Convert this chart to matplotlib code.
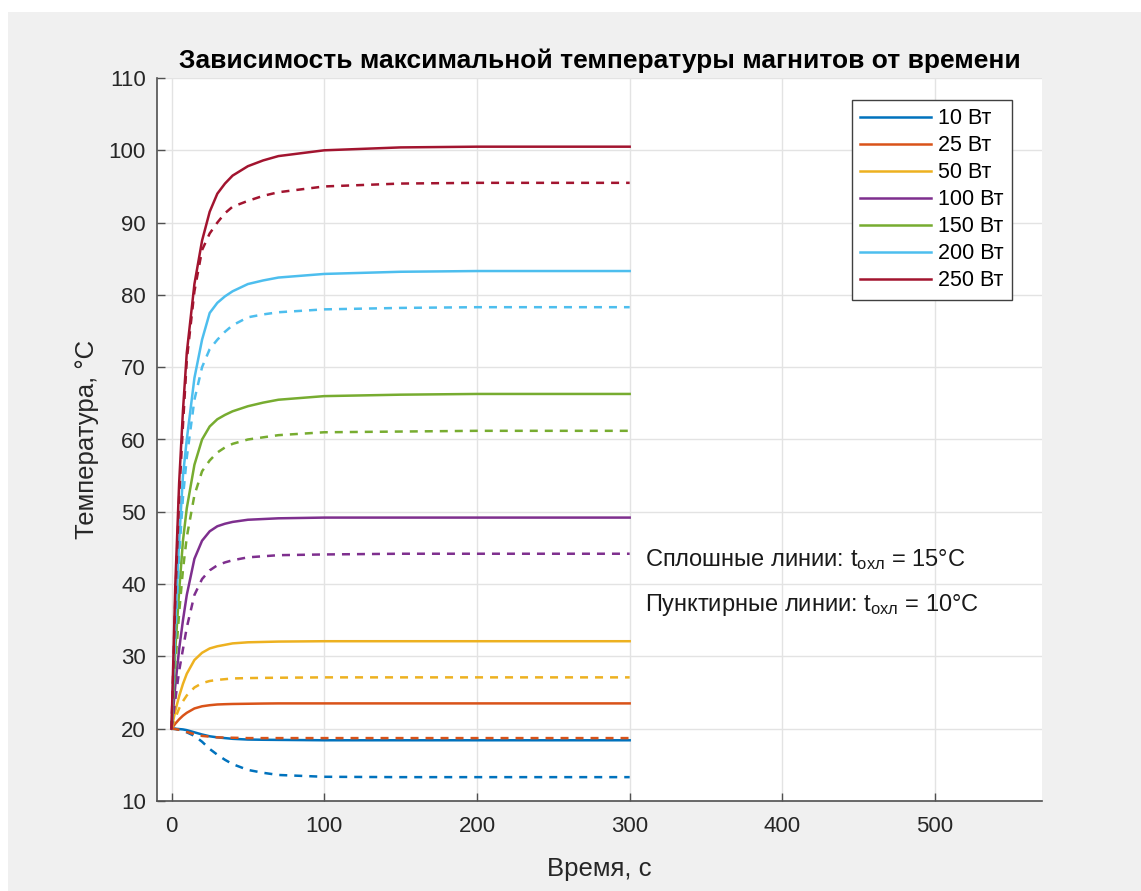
"""
Зависимость максимальной температуры магнитов от времени
"""
import matplotlib
matplotlib.use("Agg")
import matplotlib.pyplot as plt
from matplotlib.patches import Rectangle

plt.rcParams["font.family"] = ["Liberation Sans", "DejaVu Sans"]
plt.rcParams["mathtext.fontset"] = "custom"
plt.rcParams["mathtext.rm"] = "Liberation Sans"
plt.rcParams["mathtext.it"] = "Liberation Sans"

# time points, s
t = [0, 2.5, 5, 7.5, 10, 15, 20, 25, 30, 35, 40, 50, 60, 70, 100, 150, 200, 300]

labels = ["10 Вт", "25 Вт", "50 Вт", "100 Вт", "150 Вт", "200 Вт", "250 Вт"]
colors = ["#0072BD", "#D95319", "#EDB120", "#7E2F8E", "#77AC30", "#4DBEEE", "#A2142F"]

# solid lines: t_охл = 15 °C
solid_10 = [20, 20, 19.95, 19.9, 19.8, 19.5, 19.2, 18.95, 18.8, 18.7, 18.6, 18.5, 18.47, 18.45, 18.4, 18.4, 18.4, 18.4]
solid_25 = [20, 20.7, 21.3, 21.8, 22.2, 22.8, 23.1, 23.25, 23.35, 23.39, 23.42, 23.45, 23.48, 23.5, 23.5, 23.5, 23.5, 23.5]
solid_50 = [20, 22.5, 24.5, 26.2, 27.6, 29.5, 30.5, 31.1, 31.4, 31.6, 31.8, 31.95, 32.0, 32.05, 32.1, 32.1, 32.1, 32.1]
solid_100 = [20, 26, 31, 35, 38.5, 43.5, 46, 47.3, 48, 48.35, 48.6, 48.9, 49.0, 49.1, 49.2, 49.2, 49.2, 49.2]
solid_150 = [20, 31, 39, 46, 50.5, 56.5, 60.0, 61.8, 62.8, 63.4, 63.9, 64.6, 65.1, 65.5, 66.0, 66.2, 66.3, 66.3]
solid_200 = [20, 35, 46, 55, 60, 68.5, 73.8, 77.5, 78.9, 79.8, 80.5, 81.5, 82.0, 82.4, 82.9, 83.2, 83.3, 83.3]
solid_250 = [20, 40, 54, 64, 72, 81.5, 87.5, 91.5, 94, 95.4, 96.5, 97.8, 98.6, 99.2, 100.0, 100.4, 100.5, 100.5]

# dashed lines: t_охл = 10 °C
dashed_10 = [20, 19.95, 19.85, 19.7, 19.5, 19.0, 18.2, 17.2, 16.4, 15.7, 15.1, 14.3, 13.9, 13.6, 13.35, 13.3, 13.3, 13.3]
dashed_25 = [20, 19.95, 19.85, 19.7, 19.55, 19.25, 19.0, 18.9, 18.8, 18.77, 18.75, 18.7, 18.7, 18.7, 18.7, 18.7, 18.7, 18.7]
dashed_50 = [20, 21.5, 22.8, 23.8, 24.6, 25.7, 26.3, 26.6, 26.75, 26.85, 26.95, 27.0, 27.03, 27.05, 27.1, 27.1, 27.1, 27.1]
dashed_100 = [20, 24, 28, 31, 34, 38.5, 40.7, 41.9, 42.6, 43.0, 43.3, 43.7, 43.85, 44.0, 44.1, 44.2, 44.2, 44.2]
dashed_150 = [20, 29, 36, 42, 46.5, 52.3, 55.6, 57.1, 58.2, 58.9, 59.4, 60.0, 60.3, 60.6, 61.0, 61.1, 61.2, 61.2]
dashed_200 = [20, 33, 44, 52, 57.5, 65.5, 70, 72.5, 73.8, 74.9, 75.8, 76.9, 77.3, 77.6, 78.0, 78.2, 78.3, 78.3]
dashed_250 = [20, 38, 52, 62, 71, 80.5, 86.2, 88.5, 90, 91.3, 92.2, 93.0, 93.7, 94.2, 95.0, 95.4, 95.5, 95.5]

solid = [solid_10, solid_25, solid_50, solid_100, solid_150, solid_200, solid_250]
dashed = [dashed_10, dashed_25, dashed_50, dashed_100, dashed_150, dashed_200, dashed_250]

xticks = [0, 100, 200, 300, 400, 500]
yticks = list(range(10, 111, 10))

fig = plt.figure(figsize=(11.41, 8.91), dpi=100)
fig.patch.set_facecolor("white")
# grey frame like the MATLAB figure window
fig.patches.append(Rectangle((8 / 1141, 0), 1, 1 - 12 / 891, transform=fig.transFigure,
                             facecolor="#f0f0f0", edgecolor="none", zorder=-10))

ax = fig.add_axes([157 / 1141, 90 / 891, 885 / 1141, 723 / 891])
ax.set_facecolor("white")

handles = []
for ys, yd, c, lab in zip(solid, dashed, colors, labels):
    h, = ax.plot(t, ys, color=c, lw=1.8, label=lab)
    ax.plot(t, yd, color=c, lw=1.8, dashes=(3.2, 2.8))
    handles.append(h)

ax.set_xlim(-9.5, 570)
ax.set_ylim(10, 110)
ax.set_xticks(xticks)
ax.set_yticks(yticks)
ax.grid(True, color="#e3e3e3", lw=1)
ax.set_axisbelow(True)
for s in ["top", "right"]:
    ax.spines[s].set_visible(False)
for s in ["left", "bottom"]:
    ax.spines[s].set_color("#505050")
    ax.spines[s].set_linewidth(1.2)
ax.tick_params(direction="in", length=6, width=1, colors="#505050",
               labelcolor="#262626", labelsize=16)
ax.tick_params(axis="y", pad=8)
ax.tick_params(axis="x", pad=11)

ax.set_title("Зависимость максимальной температуры магнитов от времени",
             fontsize=19, fontweight="bold", pad=7)
ax.set_xlabel("Время, с", fontsize=18.5, color="#262626", labelpad=14)
ax.set_ylabel("Температура, °C", fontsize=18.5, color="#262626", labelpad=7)

ax.text(310, 43.4, r"Сплошные линии: $\mathregular{t_{охл}}$ = 15°C",
        fontsize=17, va="center", color="#1a1a1a")
ax.text(310, 37.1, r"Пунктирные линии: $\mathregular{t_{охл}}$ = 10°C",
        fontsize=17, va="center", color="#1a1a1a")

leg = ax.legend(handles=handles, loc="upper right", bbox_to_anchor=(0.966, 0.970),
                borderaxespad=0, fontsize=15.5, handlelength=3.3, handletextpad=0.3,
                labelspacing=0.28, borderpad=0.4, fancybox=False, framealpha=1,
                edgecolor="#404040")
leg.get_frame().set_linewidth(1)

fig.savefig("out.png", dpi=100)
